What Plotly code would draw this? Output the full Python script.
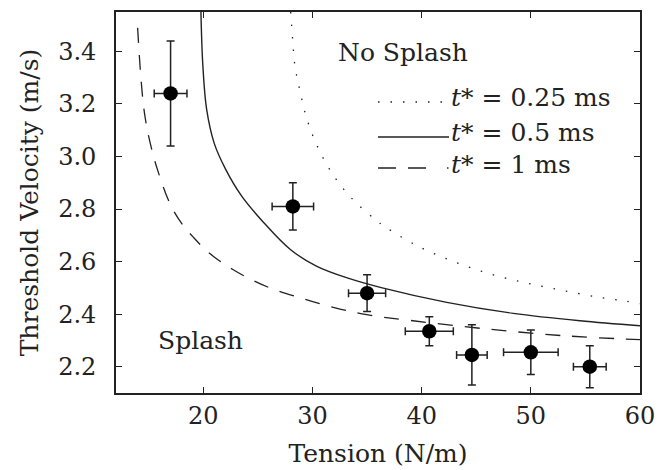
import plotly.graph_objects as go

# Measured data points (tension N/m, threshold velocity m/s) with error bars
tension = [17.0, 28.2, 35.0, 40.7, 44.6, 50.0, 55.4]
velocity = [3.24, 2.81, 2.48, 2.335, 2.245, 2.255, 2.20]
tension_err = [1.5, 1.9, 1.7, 2.2, 1.4, 2.5, 1.5]
velocity_err = [0.20, 0.09, 0.07, 0.055, 0.115, 0.085, 0.08]

# Model curves
t025_x = [28.0, 28.18, 28.39, 28.85, 29.4, 30.16, 31.2, 32.5, 34.04, 35.8, 36.7, 39.75,
          42.95, 46.3, 49.55, 52.96, 56.4, 58.77, 60.0]
t025_y = [3.55, 3.447, 3.345, 3.25, 3.155, 3.066, 2.977, 2.894, 2.822, 2.759, 2.731, 2.657,
          2.600, 2.553, 2.519, 2.490, 2.463, 2.449, 2.440]

t05_x = [19.78, 19.95, 20.3, 21.0, 22.0, 23.5, 25.5, 28.0, 30.4, 33.4, 36.2, 42.3,
         48.4, 54.5, 60.0]
t05_y = [3.55, 3.35, 3.18, 3.05, 2.955, 2.85, 2.75, 2.645, 2.582, 2.535, 2.502, 2.445,
         2.403, 2.375, 2.356]

t1_x = [13.98, 14.29, 14.6, 15.05, 15.8, 17.04, 18.16, 19.08, 20.2, 21.4, 22.7, 24.0,
        26.1, 28.9, 31.9, 34.96, 39.2, 45.9, 53.0, 60.0]
t1_y = [3.49, 3.295, 3.168, 3.066, 2.95, 2.812, 2.737, 2.693, 2.645, 2.605, 2.57, 2.54,
        2.50, 2.462, 2.426, 2.398, 2.375, 2.344, 2.318, 2.303]

x_ticks = [20, 30, 40, 50, 60]
y_ticks = [2.2, 2.4, 2.6, 2.8, 3.0, 3.2, 3.4]

legend_labels = ["<i>t</i>* = 0.25 ms",
                 "<i>t</i>* = 0.5 ms",
                 "<i>t</i>* = 1 ms"]

FONT = "DejaVu Serif"
INK = "#222222"

fig = go.Figure()

fig.add_trace(go.Scatter(x=t025_x, y=t025_y, mode="lines",
                         line=dict(color=INK, width=1.3, dash="1.5px,11px", shape="spline"),
                         showlegend=False))
fig.add_trace(go.Scatter(x=t05_x, y=t05_y, mode="lines",
                         line=dict(color=INK, width=1.4, shape="spline"),
                         showlegend=False))
fig.add_trace(go.Scatter(x=t1_x, y=t1_y, mode="lines",
                         line=dict(color=INK, width=1.3, dash="15px,12px", shape="spline"),
                         showlegend=False))

fig.add_trace(go.Scatter(
    x=tension, y=velocity, mode="markers",
    marker=dict(color="black", size=14.5, line=dict(width=0)),
    error_x=dict(type="data", array=tension_err, color=INK, thickness=1.5, width=4),
    error_y=dict(type="data", array=velocity_err, color=INK, thickness=1.5, width=4),
    showlegend=False))

# Manual legend (line samples + labels), in paper coordinates
def px_to_paper_x(px):
    return (px - 116) / 524.0

def py_to_paper_y(py):
    return (393 - py) / 381.0

sample_styles = [dict(dash="1.5px,11px"), dict(dash="solid"),
                 dict(dash="18px,12px,18px,21px,1.5px,100px")]
sample_y = [102, 137, 168]
text_y = [97, 132, 165]
for style, sy, ty, lab in zip(sample_styles, sample_y, text_y, legend_labels):
    fig.add_shape(type="line", xref="paper", yref="paper",
                  x0=px_to_paper_x(378), x1=px_to_paper_x(449),
                  y0=py_to_paper_y(sy), y1=py_to_paper_y(sy),
                  line=dict(color=INK, width=1.3, dash=style["dash"]))
    fig.add_annotation(xref="paper", yref="paper", x=px_to_paper_x(449),
                       y=py_to_paper_y(ty), text=lab, showarrow=False,
                       xanchor="left", yanchor="middle",
                       font=dict(family=FONT, size=25, color=INK))

fig.add_annotation(x=38.3, y=3.397, text="No Splash", showarrow=False,
                   xanchor="center", yanchor="middle",
                   font=dict(family=FONT, size=25, color=INK))
fig.add_annotation(x=19.7, y=2.299, text="Splash", showarrow=False,
                   xanchor="center", yanchor="middle",
                   font=dict(family=FONT, size=25, color=INK))

axis_common = dict(showgrid=False, zeroline=False, showline=True, linecolor=INK,
                   linewidth=1.8, mirror="ticks", ticks="inside", ticklen=6,
                   tickwidth=1.3, tickcolor=INK, automargin=False,
                   tickfont=dict(family=FONT, size=24, color=INK))

# The page body adds an 8 px offset, so the figure is sized to end at the window edge.
fig.update_layout(
    width=655, height=462,
    margin=dict(l=108, r=23, t=4, b=77),
    paper_bgcolor="white", plot_bgcolor="white",
    font=dict(family=FONT, color=INK),
    xaxis=dict(range=[12, 60], tickvals=x_ticks, ticktext=[str(v) for v in x_ticks],
               title=dict(text="Tension (N/m)", standoff=16,
                          font=dict(family=FONT, size=25, color=INK)),
               ticklabelstandoff=0, **axis_common),
    yaxis=dict(range=[2.1, 3.55], tickvals=y_ticks, ticktext=[f"{v:.1f}" for v in y_ticks],
               title=dict(text="Threshold Velocity (m/s)", standoff=12,
                          font=dict(family=FONT, size=25, color=INK)),
               ticklabelstandoff=13, **axis_common),
    showlegend=False,
)

fig.write_html("out.html")
